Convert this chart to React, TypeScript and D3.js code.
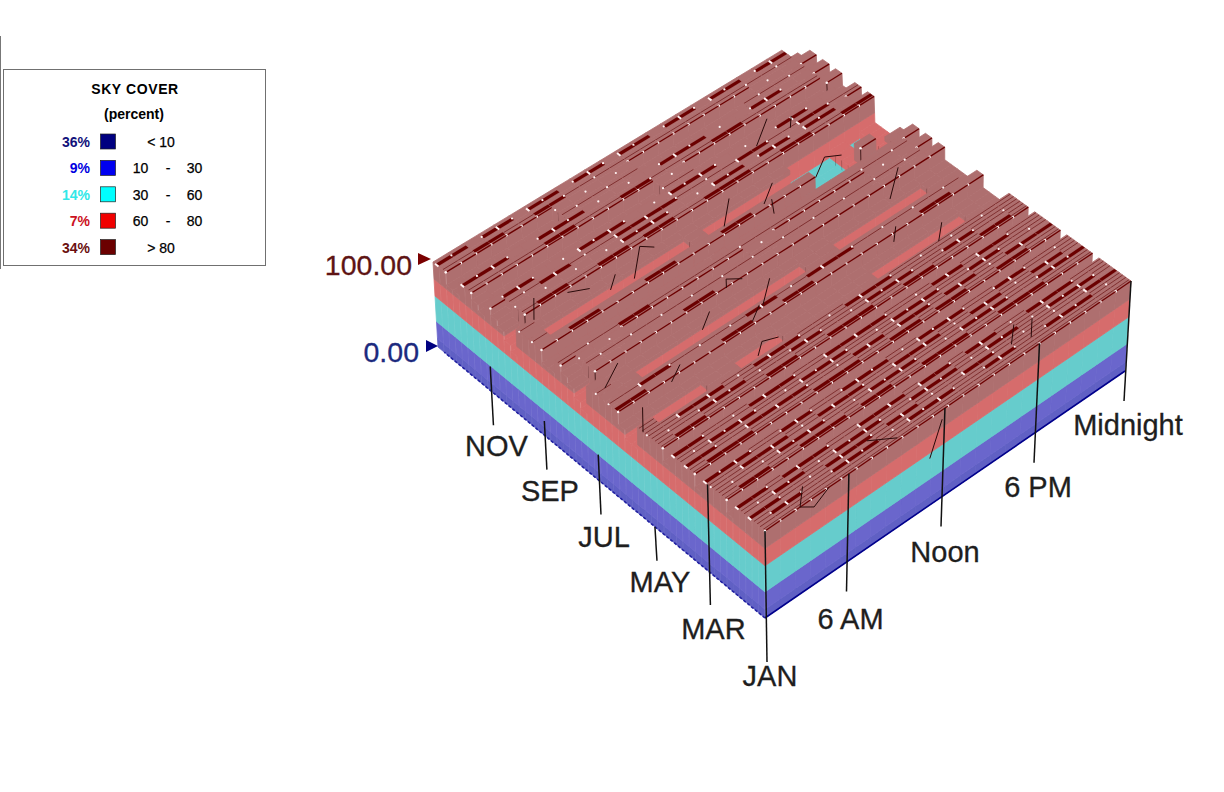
import React, { useMemo } from "react";
import * as d3 from "d3";

// Sky cover (percent) by week (rows, first = December at the back, last = January at the front)
// and by hour of day (columns). Digits: X=100 V=99 9=92 8=85 7=75 6=68 5=55 4=45
const skyCoverRows = [
  "XXVXXVXXVXXVXXVXXVXXVXX8",
  "VVXXVVXXVVVVVVVVVVVVVVV8",
  "8888888VXVVV88888888VVVX",
  "8888888VVVVV8888888VVVV8",
  "XXXVVXXXVVXVVXXXVVVXXVVX",
  "VVVVVXXVVVXXVVVVXXVVXVV8",
  "988888888888VV888888888X",
  "888888888888VV8888888888",
  "VXXVVVXXXVVVXXXVVVVXXVV8",
  "9VVXXVVVXXXXVVVVXXVVXXVX",
  "8VVXVVVVXXXVVVXXVXXVXXV8",
  "7VXXVVXXVXXVVXXXVVXXVVXX",
  "688888888888888888555656",
  "X66666666668666666555656",
  "X66666666668666666555656",
  "X66666666668666666555656",
  "VVXXVVVXXVVVXXVVVV555V58",
  "888888888888888888888888",
  "88888898888888888888888X",
  "VVVVXXVVXVVVVXVVVXVVXVV8",
  "9VVV88888888VV888888VVVX",
  "8VVVVVXVVVVXVVVVVVVVVVV8",
  "7VXVVVVXXVXVVVVVVXVVVVVX",
  "688888888888888888888888",
  "X88666666666668866666688",
  "X88666666666668866666688",
  "X88666666666668866666688",
  "VVXXVVXVVXXVVXXXVVXVVXV8",
  "XXVVXVVXXVVXXVXVVVXVXXVX",
  "888888888888888888888888",
  "766668866688888866666688",
  "766668866688888866666688",
  "X66668866688888866666688",
  "VVXXXVVXXXVVVXXXVVVVVVVV",
  "XVVXXXVVVXXVVVXXXVVXXVVX",
  "VXXVVXVXXVVXXXVVXXVVVXXV",
  "888888888888888888888888",
  "XXVVVXXXVVXXXXVVVXXVXXVX",
  "VVXXXVVVXXXVVVXXXVVXXVVV",
  "XXVVXXXXVVVXXVXXVXXVVXXX",
  "VXXXVVXVXXXVVXXVXXVVXXVV",
  "888888888888888888888888",
  "XXXVVXXVVXXXVVXXXVVXXVVX",
  "VVXXXVVXXXVVXXXVVXXVVXXV",
  "XVVVXXXVVVXXXVVVXXXVVXXX",
  "VXXVVXXXVXXVVXXXVVXXXVVV",
  "888888888888888888888888",
  "XXVXXXVVXXXVXXVXXVVXXXVV",
  "VVXXVVXXXVVXXXVVXXVVXXXV",
  "XXVVVXXXVXXVVVXXVVXVVVXX",
  "VXXVVXXXVVXXXVVXXVVXXXVV",
  "VVVVVVVVVVVVVVVVVVVVVVVV",
];
const digitValues: Record<string, number> = { X: 100, V: 99, "9": 92, "8": 85, "7": 75, "6": 68, "5": 55, "4": 45 };

// thin dark mesh fragments on the surface, as [row, column] points
const meshBreaks: [number, number][][] = [
  [[41.2, 2.1], [38.8, 1.1]],
  [[39.5, 3.6], [38.4, 4.6]],
  [[38.2, 6.2], [36.8, 5.3]],
  [[38.5, 8.9], [39.6, 8.4], [36.4, 6.7]],
  [[38.7, 13.9], [35.9, 12.4]],
  [[37.4, 16.2], [35.6, 14.9]],
  [[29.9, 10], [28.9, 9.6]],
  [[29.9, 10], [28.8, 10.6]],
  [[26.9, 11.6], [24.4, 10.1]],
  [[28.3, 2.2], [26.5, 0.6]],
  [[21.8, 1.1], [19.1, 0]],
  [[23.8, 4.4], [22.5, 3.3]],
  [[27.5, 7.9], [26, 6.8]],
  [[20.5, 8.4], [19.2, 7.6]],
  [[20.5, 8.4], [19.8, 9.2]],
  [[24.7, 10], [23.4, 9]],
  [[2, 3.3], [0, 2.3], [-1, 2.8], [0, 4.2]],
  [[-1, 11.2], [-4.3, 9]],
  [[2.2, 7.6], [0.3, 8.8]],
  [[3.3, 18.9], [1.3, 18]],
  [[4, 18], [2, 17]],
  [[36.6, 19.3], [34.9, 18]],
  [[36.6, 19.3], [35.6, 20]],
  [[35.6, 15.4], [33.8, 14.8]],
  [[30.1, 21.4], [27.1, 19.6]],
  [[23.6, 18.5], [22, 17.7]],
  [[20.7, 20.3], [18.8, 19.3]],
  [[45.1, 19.1], [42.7, 17.4]],
  [[43.7, 20.1], [42.4, 19.5]],
];

const monthLabels = ["JAN", "MAR", "MAY", "JUL", "SEP", "NOV"];
const monthRows = [0, 9, 17.5, 26.4, 35, 43.5];
const monthTickFrom = [100, 100, 0, 30, 17, 29];
const monthTickLen = [44, 34, 34, 34, 34, 34];
const monthLabelDy = [24, 34, 31, 33, 31, 31];
const hourLabels = ["6 AM", "Noon", "6 PM", "Midnight"];
const hourCols = [5.5, 11.8, 18, 24];
const hourLabelDy = [68, 65, 64, 64];

const legendPercents = ["36%", "9%", "14%", "7%", "34%"];
const legendColors = ["#000080", "#0000f0", "#00ffff", "#f00000", "#6b0000"];
const legendTextColors = ["#10107a", "#0000e0", "#30e8e8", "#cc1122", "#6b0f0f"];
const legendRanges = [["< 10"], ["10", "30"], ["30", "60"], ["60", "80"], ["> 80"]];

const bandEdges = [0, 10, 30, 60, 80, 100];
const wallColors = ["#6060c4", "#6a66cc", "#66cccc", "#d66c6c", "#ae6f6f"];
const darkTop = "#6b0000";

const N_ROWS = skyCoverRows.length;
const N_COLS = 24;

// corner positions of the solid box on the page: [x, y] at z=0 and z=100
const base = { f: [765, 618], r: [1125, 371], l: [438, 347], b: [802, 120] };
const top = { f: [765, 531], r: [1131, 281], l: [433, 262], b: [797, 41] };

const rowScale = d3.scaleLinear().domain([0, N_ROWS]).range([0, 1]);
const colScale = d3.scaleLinear().domain([0, N_COLS]).range([0, 1]);
const zScale = d3.scaleLinear().domain([0, 100]).range([0, 1]);

function bilinear(c: typeof top, u: number, v: number, k: 0 | 1) {
  return (
    (1 - u) * (1 - v) * c.f[k] + (1 - u) * v * c.r[k] + u * (1 - v) * c.l[k] + u * v * c.b[k]
  );
}
function project(row: number, col: number, z: number): [number, number] {
  const u = rowScale(row);
  const v = colScale(col);
  const t = zScale(z);
  return [
    bilinear(base, u, v, 0) * (1 - t) + bilinear(top, u, v, 0) * t,
    bilinear(base, u, v, 1) * (1 - t) + bilinear(top, u, v, 1) * t,
  ];
}
const lineGen = d3.line<[number, number]>();
const poly = (pts: [number, number][]) => lineGen(pts) + "Z";

type Mark =
  | { k: "p"; d: string; fill: string; s?: number }
  | { k: "l"; d: string; stroke: string; w: number; o?: number }
  | { k: "c"; x: number; y: number; r: number };

function buildMarks(): Mark[] {
  const H = (i: number, j: number) => digitValues[skyCoverRows[N_ROWS - 1 - i][j]] ?? 100;
  const marks: Mark[] = [];
  const wall = (a: [number, number], b: [number, number], lo: number, hi: number) => {
    for (let s = 0; s < wallColors.length; s++) {
      const z0 = Math.max(lo, bandEdges[s]);
      const z1 = Math.min(hi, bandEdges[s + 1]);
      if (z1 <= z0) continue;
      marks.push({
        k: "p",
        fill: wallColors[s],
        s: 0.8,
        d: poly([
          project(a[0], a[1], z0),
          project(b[0], b[1], z0),
          project(b[0], b[1], z1),
          project(a[0], a[1], z1),
        ]),
      });
    }
  };
  for (let i = N_ROWS - 1; i >= 0; i--) {
    const overlays: Mark[] = [];
    for (let j = N_COLS - 1; j >= 0; j--) {
      const h = H(i, j);
      const band = bandEdges.findIndex((e, n) => n > 0 && h <= e) - 1;
      // Tops sit flush: the 99/100 codes only decide the mesh drawn on them.
      const topH = h >= 99 ? 100 : h;
      marks.push({
        k: "p",
        fill: wallColors[band],
        s: 0.8,
        d: poly([project(i, j, topH), project(i + 1, j, topH), project(i + 1, j + 1, topH), project(i, j + 1, topH)]),
      });
      const leftSame = j > 0 && H(i, j - 1) === 100;
      const rightSame = j < N_COLS - 1 && H(i, j + 1) === 100;
      const isBar = h === 100 && (leftSame || rightSame);
      if (isBar) {
        marks.push({
          k: "p",
          fill: darkTop,
          s: 0.1,
          d: poly([
            project(i + 0.2, j, topH),
            project(i + 0.62, j, topH),
            project(i + 0.62, j + 1, topH),
            project(i + 0.2, j + 1, topH),
          ]),
        });
      } else if (h >= 99) {
        // thin mesh lines: two per row in the dense winter part, one elsewhere
        const fs = i < 20 ? [0.3, 0.8] : i % 2 === 0 ? [0.5] : [];
        for (const f of fs) {
          marks.push({
            k: "l",
            stroke: "#742020",
            w: 0.8,
            d: lineGen([project(i + f, j, topH), project(i + f, j + 1, topH)])!,
          });
        }
      }
      const frontVal = i === 0 ? 0 : H(i - 1, j);
      const frontLo = frontVal >= 99 ? 100 : frontVal;
      if (frontLo < topH) wall([i, j], [i, j + 1], frontLo, topH);
      const leftVal = j === 0 ? 0 : H(i, j - 1);
      const leftLo = leftVal >= 99 ? 100 : leftVal;
      if (leftLo < topH) {
        wall([i, j], [i + 1, j], leftLo, topH);
        if (j === 0) {
          marks.push({
            k: "l",
            stroke: "#ffffff",
            w: 0.9,
            o: 0.2,
            d: lineGen([project(i, j, leftLo), project(i, j, topH)])!,
          });
        } else if (topH - leftLo >= 10) {
          marks.push({
            k: "l",
            stroke: "#2a0808",
            w: 0.8,
            d: lineGen([project(i, j, leftLo), project(i, j, topH)])!,
          });
        }
      }
      if (topH === 100 && frontLo < 95) {
        overlays.push({
          k: "l",
          stroke: darkTop,
          w: 1.3,
          d: lineGen([project(i, j, topH), project(i, j + 1, topH)])!,
        });
        const [x, y] = project(i, j, topH);
        overlays.push({ k: "c", x, y, r: 1.3 });
      } else if (isBar && j % 2 === 0) {
        overlays.push({
          k: "l",
          stroke: "#fff2f2",
          w: 2,
          d: lineGen([project(i + 0.14, j, topH), project(i + 0.68, j, topH)])!,
        });
      } else if (topH === 100 && (i + j) % 2 === 0) {
        const [x, y] = project(i + 0.5, j, topH);
        overlays.push({ k: "c", x, y, r: 1.1 });
      }
    }
    marks.push(...overlays);
  }
  return marks;
}

function App() {
  const marks = useMemo(buildMarks, []);
  const font = "'Liberation Sans', Arial, sans-serif";
  const leftBase = d3.range(0, N_ROWS).map((i) => project(i, 0, 0));
  return (
    <svg
      width={1224}
      height={792}
      viewBox="0 0 1224 792"
      style={{ position: "absolute", left: 0, top: 0, background: "#fff" }}
      fontFamily={font}
    >
      {/* legend */}
      <line x1={0.5} y1={36} x2={0.5} y2={269} stroke="#777" />
      <rect x={3.5} y={69.5} width={262} height={196} fill="#fff" stroke="#707070" />
      <text x={135} y={94} textAnchor="middle" fontSize={14} fontWeight={700} letterSpacing={0.6}>
        SKY COVER
      </text>
      <text x={134} y={119} textAnchor="middle" fontSize={14} fontWeight={700}>
        (percent)
      </text>
      {legendPercents.map((p, i) => {
        const cy = 142 + i * 26.4;
        const r = legendRanges[i];
        return (
          <g key={p + i}>
            <text x={90} y={cy + 5} textAnchor="end" fontSize={14} fontWeight={700} fill={legendTextColors[i]}>
              {p}
            </text>
            <rect x={100.5} y={cy - 8} width={15} height={15} fill={legendColors[i]} stroke="#222" strokeWidth={0.7} />
            {r.length === 1 ? (
              <text x={161} y={cy + 5} textAnchor="middle" fontSize={14} stroke="#000" strokeWidth={0.25}>
                {r[0]}
              </text>
            ) : (
              <g fontSize={14} stroke="#000" strokeWidth={0.25}>
                <text x={140.5} y={cy + 5} textAnchor="middle">{r[0]}</text>
                <text x={168} y={cy + 5} textAnchor="middle">-</text>
                <text x={194.5} y={cy + 5} textAnchor="middle">{r[1]}</text>
              </g>
            )}
          </g>
        );
      })}

      {/* surface */}
      <g>
        {marks.map((m, i) =>
          m.k === "p" ? (
            <path key={i} d={m.d} fill={m.fill} stroke={m.fill} strokeWidth={m.s ?? 0.3} />
          ) : m.k === "l" ? (
            <path key={i} d={m.d} fill="none" stroke={m.stroke} strokeWidth={m.w} strokeOpacity={m.o ?? 1} />
          ) : (
            <circle key={i} cx={m.x} cy={m.y} r={m.r} fill="#fff4f4" />
          )
        )}
      </g>
      <g>
        {meshBreaks.map((pts, i) => (
          <path
            key={i}
            d={lineGen(pts.map(([r, c]) => project(r, c, 100)))!}
            fill="none"
            stroke="#2a0a0a"
            strokeWidth={1}
          />
        ))}
      </g>
      {/* base edges */}
      <path d={lineGen([project(0, 0, 0), project(0, 24, 0)])!} stroke="#00008b" strokeWidth={1.6} fill="none" />
      <path d={lineGen(leftBase)!} stroke="#2020a0" strokeWidth={1.6} strokeDasharray="3 2" fill="none" />

      {/* axis markers */}
      <text x={412} y={275} textAnchor="end" fontSize={28.5} fill="#5e1414" stroke="#5e1414" strokeWidth={0.3}>100.00</text>
      <path d="M418,253 L431,259 L418,265 Z" fill="#7a0000" />
      <text x={419} y={362} textAnchor="end" fontSize={28.5} fill="#1c2a7e" stroke="#1c2a7e" strokeWidth={0.3}>0.00</text>
      <path d="M426,340 L438,346 L426,352 Z" fill="#000080" />

      {/* month ticks */}
      {monthLabels.map((m, i) => {
        const [x0, y0] = project(monthRows[i], 0, monthTickFrom[i]);
        const [x1, y1] = project(monthRows[i], 0, 0);
        const len = monthTickLen[i];
        return (
          <g key={m}>
            <line x1={x0} y1={y0} x2={x1 + 2} y2={y1 + len} stroke="#111" strokeWidth={1.5} />
            <text
              x={x1 + 5}
              y={y1 + len + monthLabelDy[i]}
              textAnchor="middle"
              fontSize={29}
              fill="#1e1e1e"
              stroke="#1e1e1e"
              strokeWidth={0.3}
            >
              {m}
            </text>
          </g>
        );
      })}
      {/* hour ticks */}
      {hourLabels.map((m, i) => {
        const [x0, y0] = project(0, hourCols[i], 100);
        const [x1, y1] = project(0, hourCols[i], 0);
        return (
          <g key={m}>
            <line x1={x0} y1={y0} x2={x1 - 1} y2={y1 + 30} stroke="#111" strokeWidth={1.5} />
            <text
              x={x1 + 3}
              y={y1 + hourLabelDy[i]}
              textAnchor="middle"
              fontSize={29}
              fill="#1e1e1e"
              stroke="#1e1e1e"
              strokeWidth={0.3}
            >
              {m}
            </text>
          </g>
        );
      })}
    </svg>
  );
}

export default App;
